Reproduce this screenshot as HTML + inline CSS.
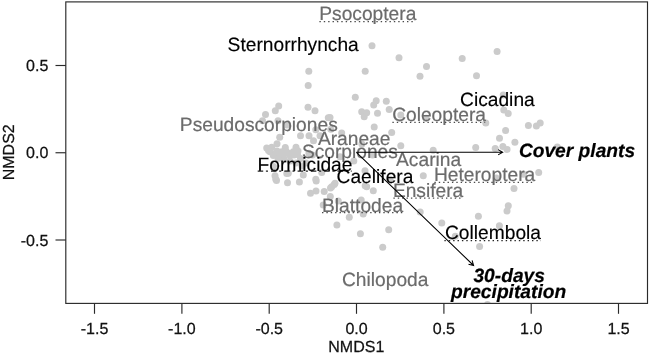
<!DOCTYPE html>
<html><head><meta charset="utf-8"><title>NMDS ordination</title>
<style>html,body{margin:0;padding:0;background:#fff}svg{display:block}</style></head>
<body>
<svg width="649" height="354" viewBox="0 0 649 354">
<rect width="649" height="354" fill="#fff"/>
<g fill="#cbcbcb">
<circle cx="308.8" cy="71.2" r="3.5"/>
<circle cx="308.2" cy="85.5" r="3.5"/>
<circle cx="372.0" cy="45.8" r="3.5"/>
<circle cx="399.0" cy="57.8" r="3.5"/>
<circle cx="365.2" cy="71.2" r="3.5"/>
<circle cx="426.5" cy="66.5" r="3.5"/>
<circle cx="420.0" cy="76.2" r="3.5"/>
<circle cx="462.2" cy="58.5" r="3.5"/>
<circle cx="476.5" cy="75.8" r="3.5"/>
<circle cx="497.1" cy="51.6" r="3.5"/>
<circle cx="278.7" cy="106.0" r="3.5"/>
<circle cx="275.3" cy="110.8" r="3.5"/>
<circle cx="265.5" cy="114.5" r="3.5"/>
<circle cx="262.5" cy="120.8" r="3.5"/>
<circle cx="278.0" cy="120.8" r="3.5"/>
<circle cx="286.7" cy="125.0" r="3.5"/>
<circle cx="308.0" cy="107.2" r="3.5"/>
<circle cx="315.0" cy="110.8" r="3.5"/>
<circle cx="328.3" cy="117.8" r="3.5"/>
<circle cx="341.7" cy="133.0" r="3.5"/>
<circle cx="330.8" cy="129.2" r="3.5"/>
<circle cx="315.8" cy="129.7" r="3.5"/>
<circle cx="279.7" cy="137.2" r="3.5"/>
<circle cx="300.5" cy="135.7" r="3.5"/>
<circle cx="309.0" cy="135.8" r="3.5"/>
<circle cx="313.5" cy="140.8" r="3.5"/>
<circle cx="320.0" cy="135.8" r="3.5"/>
<circle cx="277.0" cy="143.8" r="3.5"/>
<circle cx="266.7" cy="148.0" r="3.5"/>
<circle cx="271.7" cy="147.2" r="3.5"/>
<circle cx="285.3" cy="147.6" r="3.5"/>
<circle cx="296.0" cy="147.2" r="3.5"/>
<circle cx="270.0" cy="151.7" r="3.5"/>
<circle cx="275.8" cy="153.3" r="3.5"/>
<circle cx="281.7" cy="151.7" r="3.5"/>
<circle cx="288.3" cy="153.3" r="3.5"/>
<circle cx="293.3" cy="151.7" r="3.5"/>
<circle cx="280.0" cy="155.7" r="3.5"/>
<circle cx="273.3" cy="155.5" r="3.5"/>
<circle cx="290.0" cy="155.5" r="3.5"/>
<circle cx="297.5" cy="154.5" r="3.5"/>
<circle cx="284.0" cy="154.0" r="3.5"/>
<circle cx="277.0" cy="151.0" r="3.5"/>
<circle cx="294.0" cy="155.0" r="3.5"/>
<circle cx="268.5" cy="150.5" r="3.5"/>
<circle cx="286.0" cy="151.0" r="3.5"/>
<circle cx="298.0" cy="151.0" r="3.5"/>
<circle cx="275.0" cy="175.8" r="3.5"/>
<circle cx="275.8" cy="179.2" r="3.5"/>
<circle cx="287.5" cy="182.8" r="3.5"/>
<circle cx="288.3" cy="173.3" r="3.5"/>
<circle cx="299.4" cy="182.0" r="3.5"/>
<circle cx="303.3" cy="175.0" r="3.5"/>
<circle cx="315.8" cy="179.2" r="3.5"/>
<circle cx="321.7" cy="172.5" r="3.5"/>
<circle cx="334.2" cy="184.6" r="3.5"/>
<circle cx="330.5" cy="188.0" r="3.5"/>
<circle cx="324.2" cy="191.5" r="3.5"/>
<circle cx="316.0" cy="191.0" r="3.5"/>
<circle cx="310.5" cy="193.3" r="3.5"/>
<circle cx="340.0" cy="156.7" r="3.5"/>
<circle cx="276.5" cy="180.6" r="3.5"/>
<circle cx="316.2" cy="181.0" r="3.5"/>
<circle cx="330.3" cy="196.4" r="3.5"/>
<circle cx="323.2" cy="205.1" r="3.5"/>
<circle cx="338.3" cy="201.0" r="3.5"/>
<circle cx="361.2" cy="200.0" r="3.5"/>
<circle cx="365.2" cy="185.8" r="3.5"/>
<circle cx="349.3" cy="217.3" r="3.5"/>
<circle cx="336.9" cy="225.1" r="3.5"/>
<circle cx="360.4" cy="233.8" r="3.5"/>
<circle cx="363.2" cy="214.1" r="3.5"/>
<circle cx="355.3" cy="97.2" r="3.5"/>
<circle cx="376.2" cy="100.8" r="3.5"/>
<circle cx="373.7" cy="105.0" r="3.5"/>
<circle cx="386.3" cy="101.3" r="3.5"/>
<circle cx="389.2" cy="109.5" r="3.5"/>
<circle cx="361.7" cy="111.7" r="3.5"/>
<circle cx="366.7" cy="112.8" r="3.5"/>
<circle cx="364.2" cy="116.7" r="3.5"/>
<circle cx="377.5" cy="113.3" r="3.5"/>
<circle cx="400.8" cy="115.0" r="3.5"/>
<circle cx="426.2" cy="118.2" r="3.5"/>
<circle cx="374.2" cy="127.0" r="3.5"/>
<circle cx="391.7" cy="132.5" r="3.5"/>
<circle cx="330.0" cy="117.5" r="3.5"/>
<circle cx="400.8" cy="145.8" r="3.5"/>
<circle cx="361.9" cy="144.0" r="3.5"/>
<circle cx="433.2" cy="150.2" r="3.5"/>
<circle cx="353.8" cy="160.9" r="3.5"/>
<circle cx="372.5" cy="155.0" r="3.5"/>
<circle cx="365.0" cy="170.8" r="3.5"/>
<circle cx="423.3" cy="175.8" r="3.5"/>
<circle cx="373.3" cy="190.8" r="3.5"/>
<circle cx="366.7" cy="186.7" r="3.5"/>
<circle cx="335.0" cy="183.3" r="3.5"/>
<circle cx="331.7" cy="186.7" r="3.5"/>
<circle cx="390.0" cy="179.2" r="3.5"/>
<circle cx="503.2" cy="95.0" r="3.5"/>
<circle cx="503.8" cy="110.1" r="3.5"/>
<circle cx="508.2" cy="113.5" r="3.5"/>
<circle cx="485.8" cy="123.1" r="3.5"/>
<circle cx="528.4" cy="125.4" r="3.5"/>
<circle cx="536.4" cy="126.1" r="3.5"/>
<circle cx="540.2" cy="122.9" r="3.5"/>
<circle cx="505.6" cy="130.6" r="3.5"/>
<circle cx="499.5" cy="138.2" r="3.5"/>
<circle cx="514.9" cy="142.3" r="3.5"/>
<circle cx="502.9" cy="146.4" r="3.5"/>
<circle cx="475.7" cy="147.4" r="3.5"/>
<circle cx="495.2" cy="148.4" r="3.5"/>
<circle cx="507.0" cy="149.4" r="3.5"/>
<circle cx="557.3" cy="147.1" r="3.5"/>
<circle cx="538.7" cy="172.4" r="3.5"/>
<circle cx="496.2" cy="178.1" r="3.5"/>
<circle cx="514.0" cy="188.4" r="3.5"/>
<circle cx="508.3" cy="205.8" r="3.5"/>
<circle cx="507.0" cy="211.0" r="3.5"/>
<circle cx="499.4" cy="225.7" r="3.5"/>
<circle cx="523.4" cy="174.3" r="3.5"/>
<circle cx="300.5" cy="158.5" r="3.5"/>
<circle cx="296.0" cy="163.0" r="3.5"/>
<circle cx="302.0" cy="166.0" r="3.5"/>
<circle cx="290.0" cy="161.0" r="3.5"/>
<circle cx="284.0" cy="159.0" r="3.5"/>
<circle cx="278.0" cy="158.5" r="3.5"/>
<circle cx="306.0" cy="163.0" r="3.5"/>
<circle cx="273.5" cy="166.5" r="3.5"/>
<circle cx="308.9" cy="153.3" r="3.5"/>
<circle cx="312.5" cy="155.0" r="3.5"/>
<circle cx="286.8" cy="173.4" r="3.5"/>
<circle cx="420.2" cy="212.1" r="3.5"/>
<circle cx="441.8" cy="222.9" r="3.5"/>
<circle cx="388.7" cy="229.7" r="3.5"/>
<circle cx="382.7" cy="247.3" r="3.5"/>
<circle cx="478.4" cy="216.3" r="3.5"/>
<circle cx="455.3" cy="236.2" r="3.5"/>
<circle cx="479.6" cy="246.6" r="3.5"/>
<clipPath id="pc"><rect x="66" y="2" width="581" height="301.4"/></clipPath>
<circle cx="487.5" cy="304.6" r="3.5" clip-path="url(#pc)"/>
</g>
<g font-family="'Liberation Sans', Arial, Helvetica, sans-serif" font-size="19.2px" text-rendering="geometricPrecision">
<text x="367.8" y="19.5" text-anchor="middle" fill="#6b6b6b" stroke="#6b6b6b" stroke-width="0.2">Psocoptera</text>
<line x1="319.4" x2="415.5" y1="21.6" y2="21.6" stroke="#4a4a4a" stroke-width="1.25" stroke-dasharray="1.4 2.98"/>
<text x="293.2" y="50.8" text-anchor="middle" fill="#000" stroke="#000" stroke-width="0.15">Sternorrhyncha</text>
<text x="497.4" y="105.9" text-anchor="middle" fill="#000" stroke="#000" stroke-width="0.15">Cicadina</text>
<text x="439.1" y="120.8" text-anchor="middle" fill="#6b6b6b" stroke="#6b6b6b" stroke-width="0.2">Coleoptera</text>
<line x1="392.4" x2="485.2" y1="122.3" y2="122.3" stroke="#4a4a4a" stroke-width="1.25" stroke-dasharray="1.4 2.98"/>
<text x="258.8" y="130.6" text-anchor="middle" fill="#6b6b6b" stroke="#6b6b6b" stroke-width="0.2">Pseudoscorpiones</text>
<text x="354.2" y="145.1" text-anchor="middle" fill="#6b6b6b" stroke="#6b6b6b" stroke-width="0.2">Araneae</text>
<text x="349.9" y="158.0" text-anchor="middle" fill="#6b6b6b" stroke="#6b6b6b" stroke-width="0.2">Scorpiones</text>
<text x="428.6" y="165.7" text-anchor="middle" fill="#6b6b6b" stroke="#6b6b6b" stroke-width="0.2">Acarina</text>
<text x="305.0" y="171.1" text-anchor="middle" fill="#000" stroke="#000" stroke-width="0.15">Formicidae</text>
<line x1="257.7" x2="351.7" y1="171.2" y2="171.2" stroke="#222" stroke-width="1.25" stroke-dasharray="5.5 2.7 2.1 3.0"/>
<text x="375.0" y="182.9" text-anchor="middle" fill="#000" stroke="#000" stroke-width="0.15">Caelifera</text>
<text x="484.6" y="180.7" text-anchor="middle" fill="#6b6b6b" stroke="#6b6b6b" stroke-width="0.2">Heteroptera</text>
<line x1="434.4" x2="534.3" y1="182.3" y2="182.3" stroke="#4a4a4a" stroke-width="1.25" stroke-dasharray="1.4 2.98"/>
<text x="428.1" y="196.5" text-anchor="middle" fill="#6b6b6b" stroke="#6b6b6b" stroke-width="0.2">Ensifera</text>
<line x1="393.4" x2="462.3" y1="198.0" y2="198.0" stroke="#4a4a4a" stroke-width="1.25" stroke-dasharray="1.4 2.98"/>
<text x="362.6" y="212.0" text-anchor="middle" fill="#6b6b6b" stroke="#6b6b6b" stroke-width="0.2">Blattodea</text>
<line x1="322.0" x2="402.6" y1="212.7" y2="212.7" stroke="#4a4a4a" stroke-width="1.25" stroke-dasharray="1.4 2.98"/>
<text x="493.0" y="239.4" text-anchor="middle" fill="#000" stroke="#000" stroke-width="0.15">Collembola</text>
<line x1="444.4" x2="541.0" y1="240.7" y2="240.7" stroke="#222" stroke-width="1.25" stroke-dasharray="1.4 2.98"/>
<text x="385.2" y="285.5" text-anchor="middle" fill="#6b6b6b" stroke="#6b6b6b" stroke-width="0.2">Chilopoda</text>
</g>
<g stroke="#000" stroke-width="1.05" fill="none" stroke-linejoin="miter">
<path d="M356.4 152.3L502.7 152.2M498.1 149.6L502.7 152.2L498.1 154.9"/>
<path d="M356.4 152.3L473.6 265.5M472.1 260.4L473.6 265.5L468.5 264.2"/>
</g>
<g font-family="'Liberation Sans', Arial, Helvetica, sans-serif" font-size="19.2px" text-rendering="geometricPrecision" font-weight="bold" font-style="italic" fill="#000" stroke="#000" stroke-width="0.2" text-anchor="middle">
<text x="577.0" y="157.1">Cover plants</text>
<text x="509.2" y="281.7">30-days</text>
<text x="508.6" y="297.7">precipitation</text>
</g>
<g stroke="#2a2a2a" stroke-width="1.15" fill="none">
<rect x="65.8" y="1.9" width="581.7" height="301.5"/>
<line x1="94.5" x2="94.5" y1="303.4" y2="313.8"/>
<line x1="181.9" x2="181.9" y1="303.4" y2="313.8"/>
<line x1="269.2" x2="269.2" y1="303.4" y2="313.8"/>
<line x1="356.5" x2="356.5" y1="303.4" y2="313.8"/>
<line x1="443.9" x2="443.9" y1="303.4" y2="313.8"/>
<line x1="531.2" x2="531.2" y1="303.4" y2="313.8"/>
<line x1="618.5" x2="618.5" y1="303.4" y2="313.8"/>
<line x1="55.5" x2="65.8" y1="65.5" y2="65.5"/>
<line x1="55.5" x2="65.8" y1="152.75" y2="152.75"/>
<line x1="55.5" x2="65.8" y1="240" y2="240"/>
</g>
<g font-family="'Liberation Sans', Arial, Helvetica, sans-serif" font-size="16px" text-rendering="geometricPrecision" fill="#111" stroke="#111" stroke-width="0.25" text-anchor="middle">
<text x="94.5" y="333.6">-1.5</text>
<text x="181.9" y="333.6">-1.0</text>
<text x="269.2" y="333.6">-0.5</text>
<text x="356.5" y="333.6">0.0</text>
<text x="443.9" y="333.6">0.5</text>
<text x="531.2" y="333.6">1.0</text>
<text x="618.5" y="333.6">1.5</text>
<text x="356.3" y="352.1">NMDS1</text>
<text transform="translate(14.3 152.3) rotate(-90)">NMDS2</text>
</g>
<g font-family="'Liberation Sans', Arial, Helvetica, sans-serif" font-size="16px" text-rendering="geometricPrecision" fill="#111" stroke="#111" stroke-width="0.25" text-anchor="end">
<text x="48.3" y="71.2">0.5</text>
<text x="48.3" y="158.4">0.0</text>
<text x="48.3" y="245.7">-0.5</text>
</g>
</svg>
</body></html>
